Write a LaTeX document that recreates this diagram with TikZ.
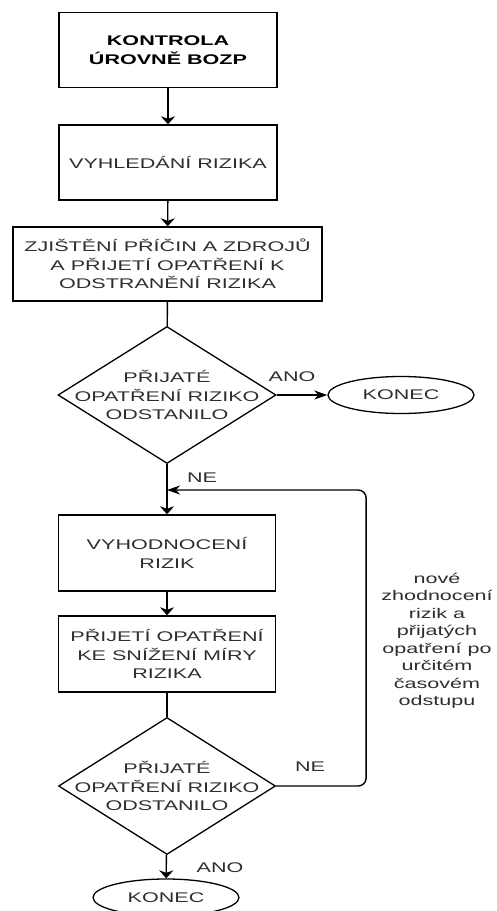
\documentclass[tikz,border=0pt]{standalone}
\usepackage{fontspec}
\setmainfont{Liberation Sans}[FakeStretch=1.54]
\usetikzlibrary{shapes.geometric,arrows.meta}
\definecolor{txt}{HTML}{2E2E2E}
\begin{document}
\begin{tikzpicture}[x=1pt,y=-1pt,
  every node/.style={font=\fontsize{14}{18.5}\selectfont, text=txt},
  box/.style={draw=black, line width=1.4pt, minimum width=218pt, minimum height=75pt, inner sep=0pt, align=center},
  dia/.style={draw=black, diamond, line width=1.3pt, minimum width=218pt, minimum height=137pt, inner sep=0pt},
  term/.style={draw=black, ellipse, line width=1.3pt, minimum width=146pt, minimum height=37pt, inner sep=0pt},
  lbl/.style={align=center, inner sep=0pt},
  conn/.style={line width=1.4pt, draw=black},
  varr/.style={conn, -{Stealth[length=8pt,width=14pt,inset=2.5pt]}},
  harr/.style={conn, -{Stealth[length=13pt,width=9pt,inset=4pt]}},
]
\useasboundingbox (0,0) rectangle (496,911);

\node[box, text=black, font=\fontsize{14}{18.5}\selectfont\bfseries] (b1) at (168,50) {KONTROLA\\ÚROVNĚ BOZP};
\node[box] (b2) at (168,162.5) {VYHLEDÁNÍ RIZIKA};
\node[box, minimum width=309pt, minimum height=74pt] (b3) at (167.5,264) {ZJIŠTĚNÍ PŘÍČIN A ZDROJŮ\\A PŘIJETÍ OPATŘENÍ K\\ODSTRANĚNÍ RIZIKA};
\node[dia, label={[lbl]center:{PŘIJATÉ\\OPATŘENÍ RIZIKO\\ODSTANILO}}] (d1) at (167,395) {};
\node[term] (e1) at (401,395) {KONEC};
\node[box, minimum width=217pt, minimum height=76pt] (b4) at (167,553) {VYHODNOCENÍ\\RIZIK};
\node[box, minimum width=217pt, minimum height=76pt] (b5) at (167,654) {PŘIJETÍ OPATŘENÍ\\KE SNÍŽENÍ MÍRY\\RIZIKA};
\node[dia, minimum width=217pt, label={[lbl]center:{PŘIJATÉ\\OPATŘENÍ RIZIKO\\ODSTANILO}}] (d2) at (167,786) {};
\node[term] (e2) at (166,897.5) {KONEC};

\node[lbl] (ano1) at (292,377) {ANO};
\node[lbl] (ne1) at (202,478) {NE};
\node[lbl] (ne2) at (310,767) {NE};
\node[lbl] (ano2) at (220,868) {ANO};
\node[lbl, font=\fontsize{14}{17.5}\selectfont] (note) at (437,641) {nové\\zhodnocení\\rizik a\\přijatých\\opatření po\\určitém\\časovém\\odstupu};

\coordinate (j) at (167,490);

\draw[varr] (b1) -- (b2);
\draw[varr] (b2) -- (b3);
\draw[conn] (b3) -- (d1);
\draw[harr] (d1) -- (e1);
\draw[varr] (d1) -- (b4);
\draw[varr] (b4) -- (b5);
\draw[conn] (b5) -- (d2);
\draw[varr] (d2) -- (e2);
\draw[harr, rounded corners=8pt] (d2.east) -- ++(90,0) |- (j);
\end{tikzpicture}
\end{document}
